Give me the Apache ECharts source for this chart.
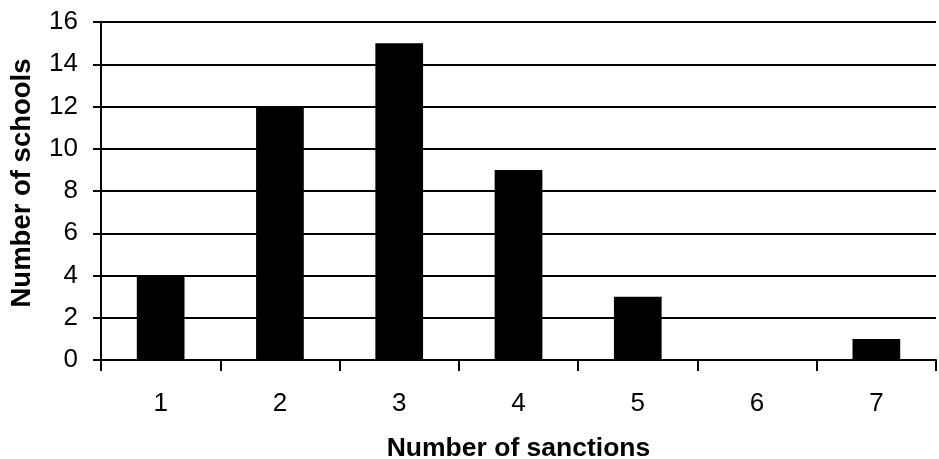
<!DOCTYPE html>
<html>
<head>
<meta charset="utf-8">
<script src="https://cdn.jsdelivr.net/npm/echarts@6/dist/echarts.min.js"></script>
<style>
  html, body { margin: 0; padding: 0; background: #fff; }
  #chart { width: 939px; height: 459px; }
</style>
</head>
<body>
<div id="chart"></div>
<script>
// Schools grouped by how many sanctions they applied
const sanctionCounts = ['1', '2', '3', '4', '5', '6', '7'];
const schoolCounts = [4, 12, 15, 9, 3, 0, 1];
const yTicks = { min: 0, max: 16, interval: 2 };
const xTitle = 'Number of sanctions';
const yTitle = 'Number of schools';

const chart = echarts.init(document.getElementById('chart'), null, { renderer: 'canvas' });
const font = 'Liberation Sans, Arial, Helvetica, sans-serif';

chart.setOption({
  animation: false,
  backgroundColor: '#ffffff',
  grid: { left: 101, right: 3, top: 22, bottom: 99, containLabel: false, outerBoundsMode: 'none' },
  graphic: [{
    type: 'text',
    x: 22,
    y: 183,
    rotation: Math.PI / 2,
    style: {
      text: yTitle,
      fontFamily: font,
      fontSize: 27.5,
      fontWeight: 'bold',
      fill: '#000',
      align: 'center',
      verticalAlign: 'middle'
    }
  }],
  xAxis: {
    type: 'category',
    data: sanctionCounts,
    name: xTitle,
    nameLocation: 'middle',
    nameGap: 75,
    nameTextStyle: { fontFamily: font, fontSize: 26.5, fontWeight: 'bold', color: '#000' },
    axisLine: { lineStyle: { color: '#000', width: 2 } },
    axisTick: { show: true, alignWithLabel: false, length: 11, lineStyle: { color: '#000', width: 2 } },
    axisLabel: { margin: 31, fontFamily: font, fontSize: 26, color: '#000' },
    splitLine: { show: false }
  },
  yAxis: {
    type: 'value',
    min: yTicks.min,
    max: yTicks.max,
    interval: yTicks.interval,
    axisLine: { show: true, lineStyle: { color: '#000', width: 2 } },
    axisTick: { show: true, inside: false, length: 8, lineStyle: { color: '#000', width: 2 } },
    axisLabel: { margin: 23, fontFamily: font, fontSize: 26, color: '#000' },
    splitLine: { show: true, lineStyle: { color: '#000', width: 2 } }
  },
  series: [{
    type: 'bar',
    data: schoolCounts,
    barWidth: '40%',
    itemStyle: { color: '#000' }
  }]
});
</script>
</body>
</html>
